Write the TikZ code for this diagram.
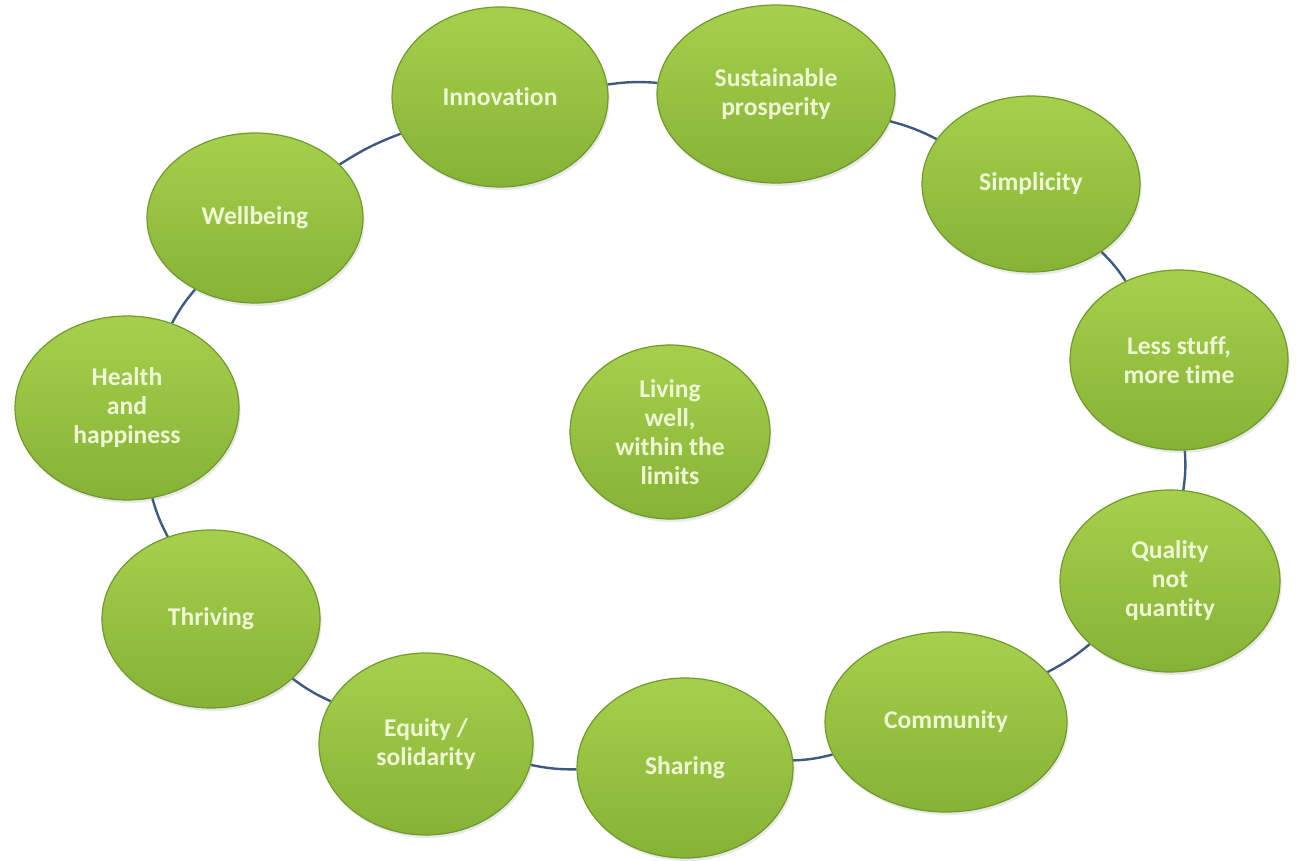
\documentclass[tikz,border=0pt]{standalone}
\usepackage{fontspec}
\setmainfont{Carlito}[Ligatures={NoCommon}]
\usetikzlibrary{shapes.geometric,backgrounds,shadows}
\definecolor{gtop}{HTML}{A6D04C}
\definecolor{gbot}{HTML}{86B236}
\definecolor{gedge}{HTML}{6F9A2C}
\definecolor{txtc}{HTML}{EFF6D6}
\definecolor{linkc}{HTML}{3D5A80}
\begin{document}
\begin{tikzpicture}[x=0.5pt,y=-0.5pt,
  bubble/.style={ellipse, inner sep=0pt, draw=gedge, line width=0.6pt,
    top color=gtop, bottom color=gbot, text=txtc,
    font=\fontsize{12.8}{14.5}\selectfont\bfseries, align=center,
    drop shadow={opacity=0.18, shadow xshift=0.8pt, shadow yshift=-1.5pt}},
  conn/.style={draw=linkc, line width=1.2pt}]
\useasboundingbox (0,0) rectangle (1302,861);
\node[bubble, minimum width=108pt, minimum height=90pt] (inn) at (500,97) {Innovation};
\node[bubble, minimum width=119pt, minimum height=89pt] (sus) at (776,94) {Sustainable\\prosperity};
\node[bubble, minimum width=109pt, minimum height=88pt] (sim) at (1031,184) {Simplicity};
\node[bubble, minimum width=109pt, minimum height=90pt] (les) at (1179,360) {Less stuff,\\more time};
\node[bubble, minimum width=110pt, minimum height=91pt] (qua) at (1170,581) {Quality\\not\\quantity};
\node[bubble, minimum width=121pt, minimum height=90pt] (com) at (946,722) {Community};
\node[bubble, minimum width=108pt, minimum height=90pt] (sha) at (685,768) {Sharing};
\node[bubble, minimum width=107pt, minimum height=91pt] (equ) at (426,744) {Equity /\\solidarity};
\node[bubble, minimum width=109pt, minimum height=89pt] (thr) at (211,619) {Thriving};
\node[bubble, minimum width=112pt, minimum height=92pt] (hea) at (127,408) {Health\\and\\happiness};
\node[bubble, minimum width=108pt, minimum height=85pt] (wel) at (255,218) {Wellbeing};
\node[bubble, minimum width=100pt, minimum height=87pt] (liv) at (670,432) {Living\\well,\\within the\\limits};
\begin{scope}[on background layer]
\fill[white] (0,0) rectangle (1302,861);
\draw[conn] (inn) to[bend left=6] (sus);
\draw[conn] (sus) to[bend left=6] (sim);
\draw[conn] (sim) to[bend left=6] (les);
\draw[conn] (les) to[bend left=6] (qua);
\draw[conn] (qua) to[bend left=6] (com);
\draw[conn] (com) to[bend left=6] (sha);
\draw[conn] (sha) to[bend left=6] (equ);
\draw[conn] (equ) to[bend left=6] (thr);
\draw[conn] (thr) to[bend left=6] (hea);
\draw[conn] (hea) to[bend left=6] (wel);
\draw[conn] (wel) to[bend left=6] (inn);
\end{scope}
\end{tikzpicture}
\end{document}
